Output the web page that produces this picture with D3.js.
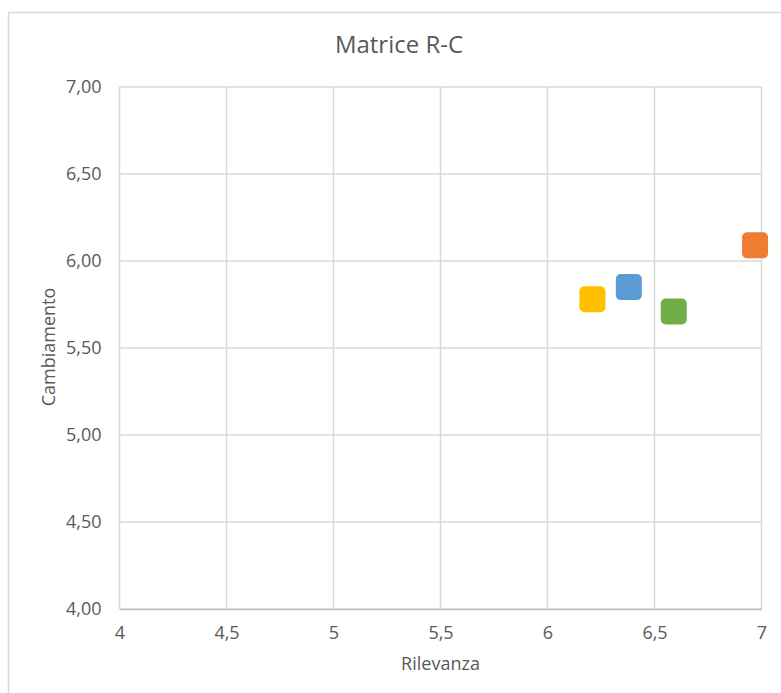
<!DOCTYPE html>
<html>
<head>
<meta charset="utf-8">
<script src="https://cdn.jsdelivr.net/npm/d3@7"></script>
<style>
  html, body { margin: 0; padding: 0; background: #fff; }
  svg { display: block; }
  text { font-family: "Open Sans", "Noto Sans", sans-serif; fill: #595959; }
</style>
</head>
<body>
<svg id="chart" width="781" height="693"></svg>
<script>
// Points: relevance (x) vs change (y)
const relevance = [6.38, 6.97, 6.21, 6.59];
const change = [5.85, 6.09, 5.78, 5.71];
const colors = ["#5B9BD5", "#ED7D31", "#FFC000", "#70AD47"];
const xTicks = [4, 4.5, 5, 5.5, 6, 6.5, 7];
const yTicks = [4, 4.5, 5, 5.5, 6, 6.5, 7];

const svg = d3.select("#chart");
const W = 781, H = 693;
const plot = { left: 119.5, right: 761.5, top: 87, bottom: 609 };

// chart frame
svg.append("rect")
  .attr("x", 8.5).attr("y", 12.5)
  .attr("width", W + 20).attr("height", H + 20)
  .attr("fill", "#fff").attr("stroke", "#d9d9d9").attr("stroke-width", 1.5);

const x = d3.scaleLinear().domain([4, 7]).range([plot.left, plot.right]);
const y = d3.scaleLinear().domain([4, 7]).range([plot.bottom, plot.top]);

const fmtX = v => String(v).replace(".", ",");
const fmtY = v => v.toFixed(2).replace(".", ",");

// gridlines
const grid = svg.append("g");
grid.selectAll("line.v").data(xTicks).join("line")
  .attr("x1", d => x(d)).attr("x2", d => x(d))
  .attr("y1", plot.top).attr("y2", plot.bottom)
  .attr("stroke", "#d9d9d9").attr("stroke-width", 1.5);
grid.selectAll("line.h").data(yTicks).join("line")
  .attr("x1", plot.left).attr("x2", plot.right)
  .attr("y1", d => y(d)).attr("y2", d => y(d))
  .attr("stroke", "#d9d9d9").attr("stroke-width", 1.5);

// axes
const xAxis = d3.axisBottom(x).tickValues(xTicks).tickFormat(fmtX).tickSize(0).tickPadding(17);
const gx = svg.append("g").attr("transform", `translate(0,${plot.bottom})`).call(xAxis);
gx.select(".domain").attr("stroke", "#bfbfbf").attr("stroke-width", 1.5);
gx.selectAll("text").attr("font-size", 18).style("fill", "#595959");

const yAxis = d3.axisLeft(y).tickValues(yTicks).tickFormat(fmtY).tickSize(0).tickPadding(18);
const gy = svg.append("g").attr("transform", `translate(${plot.left},0)`).call(yAxis);
gy.select(".domain").remove();
gy.selectAll("text").attr("font-size", 18).style("fill", "#595959");

// markers
const S = 26;
svg.append("g").selectAll("rect").data(relevance).join("rect")
  .attr("x", (d, i) => x(d) - S / 2)
  .attr("y", (d, i) => y(change[i]) - S / 2)
  .attr("width", S).attr("height", S)
  .attr("rx", 5).attr("ry", 5)
  .attr("fill", (d, i) => colors[i]);

// titles
svg.append("text").attr("x", 399).attr("y", 53)
  .attr("text-anchor", "middle").attr("font-size", 24).text("Matrice R-C");
svg.append("text").attr("x", (plot.left + plot.right) / 2).attr("y", 670)
  .attr("text-anchor", "middle").attr("font-size", 18).text("Rilevanza");
svg.append("text")
  .attr("transform", "translate(55,347) rotate(-90)")
  .attr("text-anchor", "middle").attr("font-size", 18).text("Cambiamento");
</script>
</body>
</html>
